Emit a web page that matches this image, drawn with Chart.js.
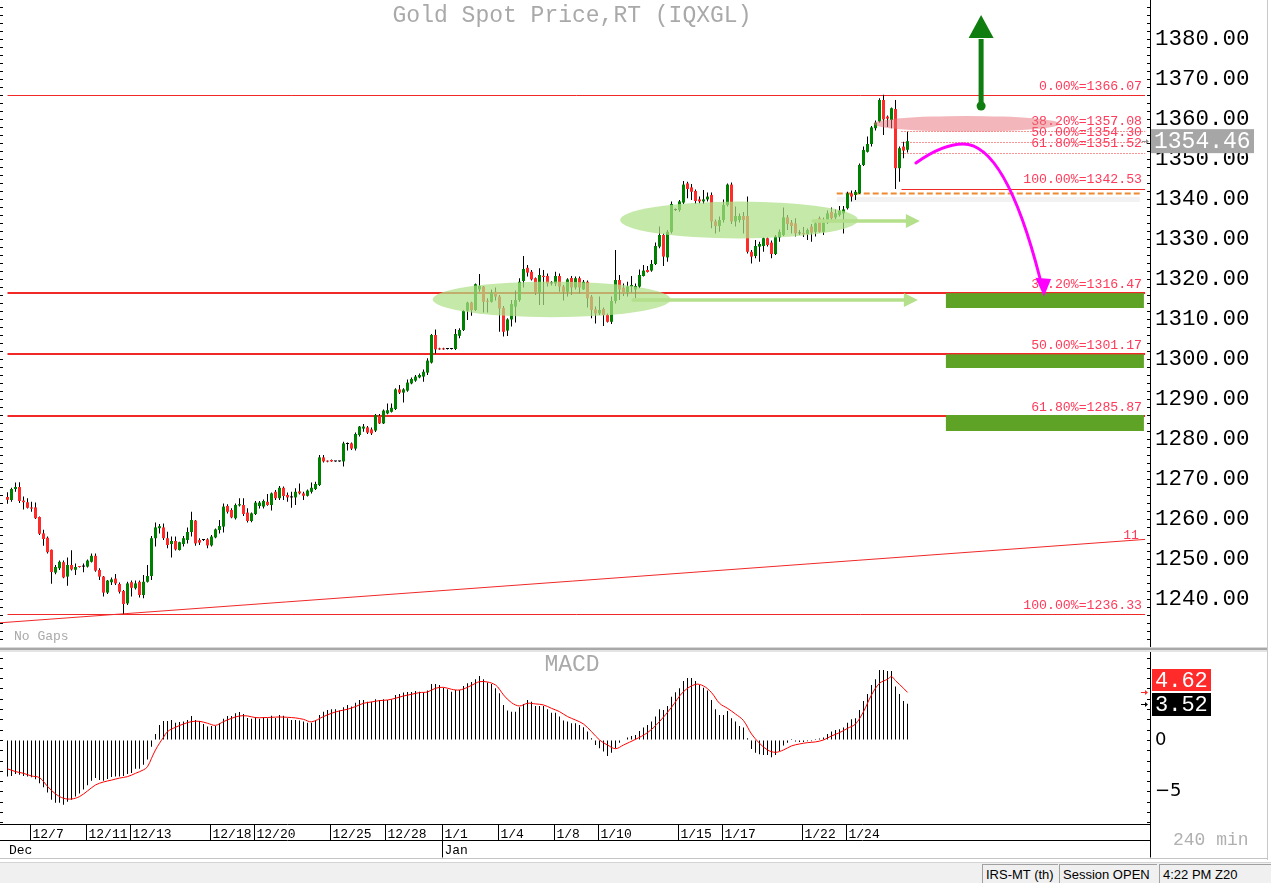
<!DOCTYPE html>
<html>
<head>
<meta charset="utf-8">
<title>Gold Spot Price 240 min</title>
<script src="https://cdn.jsdelivr.net/npm/chart.js@4.4.1/dist/chart.umd.min.js"></script>
<style>
html, body { margin: 0; padding: 0; background: #fff; }
body { width: 1271px; height: 883px; position: relative; overflow: hidden; }
#price { position: absolute; left: 0; top: 0; }
#macd { position: absolute; left: 0; top: 652px; }
.sep { position: absolute; left: 0; width: 1268px; height: 1px; }
#edge { position: absolute; left: 1267px; top: 0; width: 1px; height: 860px; background: #c8c8c8; }
#status { position: absolute; left: 0; top: 862px; width: 1271px; height: 21px; background: #f0f0f0; border-top: 1px solid #d4d4d4; }
.cell { position: absolute; top: 1px; height: 19px; border-left: 1px solid #a0a0a0; border-top: 1px solid #a0a0a0;
        font: 13px "Liberation Sans", Arial, sans-serif; line-height: 19px; padding-left: 3px; color: #000; }
</style>
</head>
<body>
<canvas id="price" width="1271" height="647"></canvas>
<div class="sep" style="top:647px;background:#d8d8d8"></div>
<div class="sep" style="top:648px;background:#a8a8a8;height:2px"></div>
<div class="sep" style="top:650px;background:#e4e4e4;height:2px"></div>
<canvas id="macd" width="1271" height="208"></canvas>
<div id="edge"></div>
<div id="status">
  <div class="cell" style="left:982px;width:72px">IRS-MT (th)</div>
  <div class="cell" style="left:1059px;width:94px">Session OPEN</div>
  <div class="cell" style="left:1159px;width:110px">4:22 PM Z20</div>
</div>
<script>
// ---- 240 min candles, Gold spot (IQXGL), 6 Dec -> 25 Jan ----
var candleOpen = [
 1265.5,1264.75,1267.5,1268,1264.6,1264.2,1262.9,1262.9,1260.5,1256.4,
 1255.3,1252.3,1246.6,1247.7,1249.2,1245.6,1248.5,1247.3,1248.1,1248.1,
 1248.1,1249.3,1250.8,1247.25,1245.6,1241.6,1244.2,1245.1,1243.75,1242,
 1238.9,1244.2,1242.7,1244.3,1241,1244.3,1245.75,1255.2,1257.7,1257.9,
 1255.2,1253.75,1254.5,1252.25,1253.75,1254.75,1256.75,1259.6,1254.75,1254.75,
 1254.9,1253.4,1255.4,1257.25,1258.1,1263.25,1262.25,1260.2,1263.4,1263.5,
 1261.6,1259.5,1261.25,1263.25,1263.1,1264.3,1263.5,1266.8,1265.2,1267.8,
 1266,1265.4,1265.4,1266.9,1266.4,1265.8,1266.8,1267.5,1268.5,1275.4,
 1274.5,1274.75,1274.4,1274.4,1274.4,1278.75,1278.9,1277.6,1281,1282.6,
 1282.9,1282.4,1282.1,1285.8,1283.9,1286.4,1286.8,1287.5,1292.4,1291.6,
 1292.1,1293.9,1294.6,1295.4,1295.6,1296.6,1299.1,1306,1302.6,1302.6,
 1302.5,1302.5,1302.5,1305.8,1307.25,1312.1,1314.1,1312.25,1317.4,1318.1,
 1314.5,1314.3,1316.8,1315.6,1312.75,1307.1,1309.9,1313.1,1314.75,1319.5,
 1322.8,1321.8,1320.2,1316.6,1320.8,1320.75,1318.9,1318.9,1320.75,1318.1,
 1316.8,1320.25,1317.9,1320.2,1317.4,1319.3,1315.6,1312.4,1311.4,1312.5,
 1311,1309.3,1314.5,1319.75,1317.8,1316.6,1318.1,1317.4,1318.1,1320.75,
 1322.25,1322.1,1323.75,1328.1,1331,1325.4,1331.8,1337.25,1337.25,1339.1,
 1343.9,1342.9,1342,1339.9,1339.4,1339.9,1341,1334.4,1333.25,1334.75,
 1338.5,1343.6,1334.4,1334.75,1335.75,1335.75,1326.8,1325.75,1328.1,1328.25,
 1330.2,1329.1,1326.25,1330.4,1331,1335.4,1334.1,1333.9,1331.4,1331.3,
 1331.25,1333.1,1331.8,1335.2,1331.8,1334.1,1336.75,1335.4,1336,1336.4,
 1337.7,1341.4,1341,1341.4,1348.5,1351.8,1353.75,1357.7,1359.4,1364.75,
 1360.6,1359.75,1362.5,1347.7,1353.1,1352.3
];
var candleHigh = [
 1266.7,1267.8,1269.1,1269.2,1265.6,1265.2,1264.3,1264.1,1260.6,1257.3,
 1255.6,1252.4,1248.5,1249.6,1249.6,1250.4,1252.2,1248.9,1248.25,1248.9,
 1249.9,1251.4,1251.4,1247.7,1245.75,1244.75,1245.4,1246.25,1244.1,1242.25,
 1244.3,1244.6,1244.6,1244.6,1246,1248.5,1255.75,1259.1,1258.75,1258.9,
 1256.8,1255.6,1255.6,1254.3,1255.75,1257.9,1261.8,1259.75,1255.2,1255,
 1255.2,1256,1257.6,1259.75,1263.9,1263.7,1262.7,1263.9,1265.2,1265.2,
 1262.7,1261.6,1264.5,1264.5,1264.9,1266.25,1266.6,1267.25,1268.25,1268.1,
 1266.6,1266.8,1267.7,1268.9,1266.8,1267.4,1269.1,1269.3,1276,1276,
 1274.6,1274.9,1274.5,1274.5,1279.3,1279.1,1279.1,1281.6,1283.25,1283.75,
 1283.25,1282.9,1286.25,1286.25,1287.4,1288.9,1288.9,1292.7,1293.5,1292.7,
 1294.9,1295.4,1296,1296.4,1297.4,1300.2,1306.25,1307.4,1302.8,1302.8,
 1302.6,1302.6,1307.5,1307.7,1312.25,1314.3,1314.3,1318.9,1321.25,1318.25,
 1315.2,1317.4,1317.9,1316,1313.25,1310.2,1314.75,1317.1,1320.2,1325.75,
 1323.5,1322.25,1320.4,1322.7,1322.25,1321.4,1319.5,1321.8,1321.4,1318.5,
 1320.2,1320.75,1320.6,1320.6,1319.75,1319.6,1316,1313.1,1315.6,1312.9,
 1311.4,1315.6,1327.25,1321,1318.9,1319.3,1320.75,1318.9,1322.4,1323.5,
 1323.25,1324.75,1329.1,1333.1,1331.4,1332.25,1339.4,1337.6,1339.75,1344.5,
 1344.3,1343.75,1342.4,1340.6,1342.25,1341.6,1341.6,1334.9,1335.6,1339.9,
 1343.9,1344.1,1338.1,1336.4,1336.75,1340.6,1327.25,1329.75,1329.3,1330.4,
 1330.4,1329.6,1331,1332.4,1337.9,1336,1334.75,1335.2,1332.25,1333,
 1332.6,1333.75,1334.75,1335.6,1335.4,1337.1,1337.9,1337.4,1338.25,1338.25,
 1341.8,1342.1,1342.25,1348.9,1353.1,1355.6,1358.25,1359.6,1365.2,1366.07,
 1360.9,1362.9,1364.75,1353.1,1354.3,1356.8
];
var candleLow = [
 1263.8,1264.3,1266.8,1264,1262.4,1262.6,1261.8,1260,1256,1253.3,
 1251.4,1243.8,1246.2,1247.25,1245.2,1243.3,1247.1,1246,1247.9,1246.7,
 1247.9,1249.1,1246.8,1244.75,1240.6,1241.25,1243.5,1243.5,1241.4,1236.33,
 1238.5,1240.6,1242.4,1240.4,1240.2,1244.1,1244.75,1253.1,1256.4,1254.75,
 1252.7,1250.4,1252.1,1252.1,1253.1,1253.9,1255.6,1253.3,1253.5,1254.5,
 1252.7,1253.1,1255.2,1256.4,1256.6,1261.4,1260.2,1259.9,1263.1,1260.75,
 1259.1,1259.2,1261,1262.6,1262.6,1263.3,1262.1,1264.75,1264.75,1264.75,
 1264.3,1262.8,1263.5,1266.1,1264.75,1265.6,1266.4,1267.25,1268.25,1274.1,
 1274.2,1274.3,1274.3,1274.3,1273.1,1277.1,1277.25,1277.1,1280.6,1281.8,
 1281.25,1281,1281.75,1283.75,1283.75,1286.2,1286.6,1287.25,1291.25,1289.1,
 1291.8,1293.7,1294.3,1295.2,1294.3,1296,1298.9,1301.4,1302.3,1302.3,
 1302.4,1302.4,1302.25,1305.2,1307,1309.75,1310.8,1312,1316.8,1311.6,
 1311.6,1314.1,1314.6,1306.8,1305.6,1305.75,1308.1,1309.1,1314.3,1317.9,
 1320.6,1319.6,1316,1313.5,1313.5,1318.1,1318.4,1318.25,1316.8,1314.6,
 1315.6,1316,1317.4,1316.4,1317.25,1312.9,1310.2,1308.9,1311,1308.25,
 1309.1,1308.75,1313.9,1314.75,1315.75,1315.6,1316.6,1315.2,1317.7,1320.6,
 1321.6,1321.8,1323.5,1327.7,1323.25,1324.3,1331.4,1337,1336.8,1338.75,
 1340.2,1339.75,1338.75,1338.9,1338.75,1339.4,1332.7,1331.4,1331.8,1334.1,
 1338.1,1333.75,1333.1,1334.1,1331.4,1326.4,1323.9,1325.2,1324.3,1326.8,
 1328.1,1325.2,1326,1329.3,1330.75,1332.25,1331.4,1330.6,1331,1330.5,
 1329.75,1329.3,1330.6,1331.6,1331,1333.75,1334.75,1334.9,1335.6,1331.4,
 1337.4,1339.4,1339.75,1341.25,1348.25,1351.6,1353.1,1357.1,1359.1,1356,
 1358,1357.7,1342.53,1344.3,1350.2,1351.6
];
var candleClose = [
 1264.8,1267.5,1268,1264.5,1264.2,1262.8,1262.6,1260.2,1256.3,1255,
 1251.7,1246.75,1248,1249.3,1245.4,1248.5,1247.4,1248,1248,1248.1,
 1249.6,1250.8,1247.1,1245.6,1241.6,1244.6,1244.9,1243.9,1241.8,1238.75,
 1243.9,1242.8,1243.9,1241,1244.3,1245.75,1255.2,1257.9,1258.2,1255.2,
 1253.5,1254.5,1252.4,1254.2,1255.2,1256.75,1259.75,1253.9,1254.1,1254.75,
 1253.4,1255.6,1257.4,1258.25,1263.1,1261.8,1260.4,1263.5,1263.7,1261.25,
 1259.5,1261.4,1264.1,1264.1,1264.5,1263.5,1266.4,1265.2,1267.8,1265.75,
 1265.4,1265.4,1266.8,1266.4,1265.8,1267.1,1267.8,1268.75,1275.4,1274.4,
 1274.35,1274.4,1274.4,1274.4,1278.9,1278.75,1277.6,1281.25,1283.1,1283.1,
 1281.6,1281.4,1286,1283.9,1287.1,1287.2,1287.8,1292.4,1291.6,1292.4,
 1294.1,1295,1295.6,1296,1296.8,1299.6,1306,1302.4,1302.4,1302.4,
 1302.5,1302.5,1306.25,1307.25,1312,1314.1,1312.25,1318.7,1318.25,1314.3,
 1314.3,1316.6,1315.6,1312.6,1306.8,1309.9,1313.75,1314.75,1319.3,1322.5,
 1321.6,1319.9,1316.6,1321,1320.5,1318.9,1318.9,1320.75,1318.1,1316.8,
 1319.9,1317.9,1320.2,1317.9,1319.3,1315.2,1312.25,1311.4,1312.25,1311,
 1309.3,1314.5,1319.75,1317.4,1316.4,1318.1,1318.5,1318.25,1321,1322.1,
 1321.75,1323.75,1328.25,1331,1325.6,1331.8,1338.75,1337.25,1339.4,1343.6,
 1342.5,1341.8,1339.5,1339.4,1339.9,1340.6,1334.4,1333.25,1334.75,1338.5,
 1343.6,1334.4,1335.75,1335.75,1334.75,1326.8,1325.6,1328.25,1328.75,1330.2,
 1328.5,1326.25,1330.6,1331.8,1335.4,1333.75,1333.25,1331.4,1331.4,1331.2,
 1332.25,1331.6,1333.9,1331.8,1334.1,1336.4,1335.2,1336.4,1337.1,1337.4,
 1341.4,1340.6,1341.8,1348.5,1352.25,1353.75,1357.9,1359.1,1364.75,1359.9,
 1360.1,1362.7,1347.7,1352.7,1352.1,1354.46
];

// MACD histogram (one bar per candle) and signal line read at sample candles
var macdHist = [
 -3.56,-3.5,-3.3,-3.37,-3.5,-3.56,-3.62,-3.82,-4.2,-4.6,
 -5.1,-5.8,-6.1,-6.1,-6.3,-6.0,-5.8,-5.5,-5.2,-4.8,
 -4.4,-3.95,-3.7,-3.9,-3.95,-3.8,-3.6,-3.56,-3.56,-3.5,
 -3.3,-3.2,-2.8,-2.8,-2.4,-1.9,-0.65,0.58,1.46,1.85,
 1.85,1.94,1.68,1.75,1.78,1.94,2.33,1.94,1.85,1.55,
 1.3,1.36,1.36,1.62,2.07,2.33,2.33,2.6,2.72,2.52,
 2.14,2.07,2.2,2.07,2.2,2.1,2.36,2.14,2.43,2.36,
 2.1,1.94,1.94,1.88,1.78,1.68,
 1.68,1.94,2.43,2.75,2.91,2.98,2.98,2.85,3.17,3.4,
 3.24,3.62,3.88,3.88,3.72,3.72,3.95,3.88,3.95,3.88,
 3.95,4.37,4.47,4.6,4.66,4.66,4.76,4.69,4.6,4.79,
 5.44,5.44,5.34,5.08,4.92,4.69,4.85,4.85,5.24,5.5,
 5.63,5.89,6.2,5.89,5.57,5.44,5.02,4.53,3.4,2.85,
 2.75,2.75,3.17,3.5,3.88,3.72,3.3,3.3,3.3,2.98,
 2.65,2.65,2.27,1.88,1.78,1.62,1.62,1.46,1.23,0.81,
 0.16,-0.49,-0.81,-1.13,-1.55,
 -1.23,-0.81,-0.26,-0.06,0.23,0.39,0.49,0.87,1.2,1.46,
 1.78,2.27,2.98,2.91,3.3,4.2,4.63,5.02,5.73,6.02,
 6.02,5.73,5.34,5.08,4.79,3.88,2.98,2.43,2.43,2.82,
 2.1,1.78,1.36,1.2,0.16,-0.87,-1.23,-1.39,-1.46,-1.46,
 -1.68,-1.46,-1.07,-0.55,-0.26,0.1,-0.16,-0.19,-0.19,-0.13,
 -0.13,0.1,0.13,0.23,0.58,0.81,0.97,1.04,1.2,1.68,
 2.0,2.1,2.91,3.79,4.47,5.34,5.89,6.8,6.8,6.7,
 6.7,5.18,4.47,3.79,3.52
];
var signalIdx = [0,2,4,6,8,10,12,14,16,18,20,22,24,26,28,30,32,34,35,36,37,38,39,40,42,44,46,48,50,52,54,56,58,60,62,64,66,68,70,72,74,
 76,79,81,83,85,87,89,91,93,95,97,99,101,103,105,107,109,111,113,115,117,118,120,122,123,124,126,128,130,132,134,136,138,140,142,144,146,148,150,
 152,154,157,160,163,166,169,172,174,176,178,180,182,184,186,188,190,192,194,196,198,200,202,204,206,208,210,212,214,216,218,220,221,222,224,225];
var signalVal = [-2.8,-3.07,-3.24,-3.5,-3.66,-4.5,-5.24,-5.66,-5.73,-5.5,-4.95,-4.37,-4.08,-3.9,-3.7,-3.56,-3.24,-2.9,-2.6,-1.78,-0.97,-0.32,0.26,0.81,1.23,1.55,1.78,1.81,1.62,1.42,1.78,2.1,2.33,2.33,2.17,2.17,2.2,2.23,2.2,2.14,2.0,
 1.76,2.27,2.59,2.82,2.98,3.24,3.56,3.69,3.82,3.88,4.05,4.27,4.43,4.6,4.66,5.02,5.11,4.92,4.85,5.11,5.5,5.66,5.63,5.34,4.92,4.37,3.62,3.3,3.56,3.5,3.4,3.07,2.75,2.27,1.94,1.55,0.81,0.0,-0.49,
 -0.85,-0.49,0.06,0.71,1.78,3.17,4.69,5.4,5.24,4.6,3.56,3.07,2.52,1.88,0.58,-0.32,-0.97,-1.2,-0.97,-0.58,-0.39,-0.26,-0.19,0.0,0.39,0.71,1.13,1.55,2.75,4.37,5.5,5.89,6.15,5.76,5.02,4.62];

// date axis: first candle of each labelled day
var dateTickIdx = [6,20,31,51,62,81,95,109,123,137,148,168,179,199,210];
var dateTickLabels = ['12/7','12/11','12/13','12/18','12/20','12/25','12/28','1/1','1/4','1/8','1/10','1/15','1/17','1/22','1/24'];
var monthIdx = [0,109];
var monthLabels = ['Dec','Jan'];

// drawn studies (price units / candle index)
var fibMain = [1366.07, 1316.47, 1301.17, 1285.87, 1236.33];
var fibMainText = ['0.00%=1366.07','38.20%=1316.47','50.00%=1301.17','61.80%=1285.87','100.00%=1236.33'];
var fibPull = [1357.08, 1354.30, 1351.52, 1342.53];
var fibPullText = ['38.20%=1357.08','50.00%=1354.30','61.80%=1351.52','100.00%=1342.53'];
var lastPrice = 1354.46;
var lastMacd = 3.52, lastSignal = 4.62;
var trendLine = [[-1.875, 1234.05], [284.4, 1254.9]];
var supportLevel = 1341.4;
var targetZones = [[1316.47, 1312.75], [1301.17, 1297.75], [1286.0, 1282.0]];

var GREEN = '#008000', RED = '#ff2b2b', FIBRED = '#f02828', FIBTXT = '#ff3a5a';
var X_MIN = -1.875, X_MAX = 285.625;

function candleColor(i) {
  if (candleClose[i] > candleOpen[i]) return GREEN;
  if (candleClose[i] < candleOpen[i]) return RED;
  return '#000';
}

var wickData = candleHigh.map(function (h, i) { return { x: i, y: [candleLow[i], h] }; });
var bodyData = candleOpen.map(function (o, i) { return { x: i, y: [o, candleClose[i]] }; });

function X(c, i) { return c.scales.x.getPixelForValue(i); }
function Y(c, v) { return c.scales.y.getPixelForValue(v); }

// keep the value axis flush with the pane edges (no label padding)
function fitRightAxis(s) {
  s.width = 121;
  s.paddingTop = 0;
  s.paddingBottom = 0;
}

function ellipse(ctx, cx, cy, rx, ry, fill) {
  ctx.beginPath();
  ctx.ellipse(cx, cy, rx, ry, 0, 0, Math.PI * 2);
  ctx.fillStyle = fill;
  ctx.fill();
}

function flatArrow(c, ctx, i0, i1, v, col) {
  var y = Y(c, v), x0 = X(c, i0), x1 = X(c, i1);
  ctx.strokeStyle = col; ctx.fillStyle = col;
  ctx.lineWidth = 3.5; ctx.lineCap = 'round';
  ctx.beginPath(); ctx.moveTo(x0, y); ctx.lineTo(x1 - 12, y); ctx.stroke();
  ctx.beginPath(); ctx.moveTo(x1, y); ctx.lineTo(x1 - 14, y - 7); ctx.lineTo(x1 - 14, y + 7); ctx.closePath(); ctx.fill();
}

function smallArrow(ctx, x, y, col) {
  ctx.strokeStyle = col; ctx.fillStyle = col; ctx.lineWidth = 1;
  ctx.beginPath(); ctx.moveTo(x, y + 0.5); ctx.lineTo(x + 5, y + 0.5); ctx.stroke();
  ctx.beginPath(); ctx.moveTo(x + 7, y + 0.5); ctx.lineTo(x + 4, y - 2); ctx.lineTo(x + 4, y + 3); ctx.closePath(); ctx.fill();
}

var priceOverlay = {
  id: 'priceOverlay',
  beforeDatasetsDraw: function (c) {
    var ctx = c.ctx;
    ctx.save();
    // title
    ctx.font = '23px "Liberation Mono", monospace';
    ctx.fillStyle = '#a9a9a9'; ctx.textAlign = 'center'; ctx.textBaseline = 'alphabetic';
    ctx.fillText('Gold Spot Price,RT (IQXGL)', 572, 22);
    ctx.textAlign = 'left'; ctx.font = '13px "Liberation Mono", monospace';
    ctx.fillText('No Gaps', 14, 640);

    // rising trend line from the December low
    ctx.strokeStyle = FIBRED; ctx.lineWidth = 1;
    ctx.beginPath();
    ctx.moveTo(X(c, trendLine[0][0]), Y(c, trendLine[0][1]));
    ctx.lineTo(X(c, trendLine[1][0]), Y(c, trendLine[1][1]));
    ctx.stroke();

    // main retracement (Dec low -> Jan high)
    var right = X(c, 284.4), left = X(c, 0);
    fibMain.forEach(function (v, k) {
      var y = Y(c, v);
      var w = (k === 0 || k === fibMain.length - 1) ? 1 : 2;
      ctx.lineWidth = w; ctx.strokeStyle = FIBRED;
      var yy = w === 1 ? Math.round(y) + 0.5 : Math.round(y);
      ctx.beginPath(); ctx.moveTo(left, yy); ctx.lineTo(right, yy); ctx.stroke();
    });
    // pullback retracement
    var pl = X(c, 223.5);
    fibPull.forEach(function (v, k) {
      var yy = Math.round(Y(c, v)) + 0.5;
      ctx.lineWidth = 1; ctx.strokeStyle = FIBRED;
      ctx.setLineDash(k === fibPull.length - 1 ? [] : [1, 2]);
      ctx.beginPath(); ctx.moveTo(pl, yy); ctx.lineTo(right, yy); ctx.stroke();
    });
    ctx.setLineDash([]);

    // support line with soft shadow
    var sx0 = X(c, 207.3), sx1 = X(c, 283.1), sy = Y(c, supportLevel);
    ctx.save();
    ctx.strokeStyle = 'rgba(0,0,0,0.05)'; ctx.lineWidth = 5;
    ctx.shadowColor = 'rgba(0,0,0,0.18)'; ctx.shadowBlur = 5;
    ctx.beginPath(); ctx.moveTo(sx0, sy + 6); ctx.lineTo(sx1, sy + 6); ctx.stroke();
    ctx.restore();
    ctx.strokeStyle = '#ef8a30'; ctx.lineWidth = 2; ctx.setLineDash([6, 3]);
    ctx.beginPath(); ctx.moveTo(sx0, sy); ctx.lineTo(sx1, sy); ctx.stroke();
    ctx.setLineDash([]);

    // level labels
    ctx.font = '13.2px "Liberation Mono", monospace';
    ctx.fillStyle = FIBTXT; ctx.textAlign = 'right';
    fibMain.forEach(function (v, k) { ctx.fillText(fibMainText[k], 1142, Y(c, v) - 5); });
    fibPull.forEach(function (v, k) { ctx.fillText(fibPullText[k], 1142, Y(c, v) - 5.5); });
    ctx.fillText('11', 1139, Y(c, 1254.7) - 1);
    ctx.restore();
  },
  afterDatasetsDraw: function (c) {
    var ctx = c.ctx;
    var ux = X(c, 1) - X(c, 0), uy = Y(c, 0) - Y(c, 1);
    ctx.save();
    // consolidation zones
    ellipse(ctx, X(c, 136.05), Y(c, 1314.9), 29.75 * ux, 4.45 * uy, 'rgba(174,224,134,0.72)');
    ellipse(ctx, X(c, 182.9), Y(c, 1334.75), 29.75 * ux, 4.6 * uy, 'rgba(174,224,134,0.72)');
    ellipse(ctx, X(c, 239.8), Y(c, 1358.8), 23.3 * ux, 1.95 * uy, 'rgba(232,110,120,0.5)');

    // target zones under the retracement levels
    ctx.fillStyle = '#5ea226';
    var zx0 = X(c, 234.6), zx1 = X(c, 284.1);
    targetZones.forEach(function (z) {
      var y0 = Y(c, z[0]), y1 = Y(c, z[1]);
      ctx.fillRect(zx0, y0, zx1 - zx0, y1 - y0);
    });

    flatArrow(c, ctx, 156.4, 227.6, 1314.75, '#b4e08c');
    flatArrow(c, ctx, 201.4, 228.1, 1334.5, '#b4e08c');

    // bullish scenario arrow
    var gx = X(c, 243.4);
    ctx.fillStyle = '#0f7d0f'; ctx.strokeStyle = '#0f7d0f';
    ctx.beginPath(); ctx.arc(gx, Y(c, 1363.25), 4.5, 0, Math.PI * 2); ctx.fill();
    ctx.lineWidth = 5; ctx.lineCap = 'butt';
    ctx.beginPath(); ctx.moveTo(gx, Y(c, 1363.25)); ctx.lineTo(gx, Y(c, 1380)); ctx.stroke();
    ctx.beginPath();
    ctx.moveTo(gx, Y(c, 1386)); ctx.lineTo(gx - 12.5, Y(c, 1380.25)); ctx.lineTo(gx + 12.5, Y(c, 1380.25));
    ctx.closePath(); ctx.fill();

    // bearish scenario curve
    ctx.strokeStyle = '#ff00ff'; ctx.fillStyle = '#ff00ff'; ctx.lineWidth = 3; ctx.lineCap = 'round';
    ctx.beginPath();
    ctx.moveTo(X(c, 227.1), Y(c, 1349));
    ctx.bezierCurveTo(X(c, 230.6), Y(c, 1351.5), X(c, 235.1), Y(c, 1353.75), X(c, 238.9), Y(c, 1353.75));
    ctx.bezierCurveTo(X(c, 246.9), Y(c, 1353.75), X(c, 253.1), Y(c, 1339.75), X(c, 258.1), Y(c, 1320.25));
    ctx.stroke();
    ctx.beginPath();
    ctx.moveTo(X(c, 259.1), Y(c, 1315.6));
    ctx.lineTo(X(c, 257.0), Y(c, 1320.3));
    ctx.lineTo(X(c, 260.9), Y(c, 1320.0));
    ctx.closePath(); ctx.fill();
    ctx.restore();
  },
  afterDraw: function (c) {
    var ctx = c.ctx, ys = c.scales.y;
    ctx.save();
    ctx.strokeStyle = '#000'; ctx.lineWidth = 1;
    ys.ticks.forEach(function (t) {
      var y = Math.round(ys.getPixelForValue(t.value)) + 0.5;
      ctx.beginPath(); ctx.moveTo(1147, y); ctx.lineTo(1150, y); ctx.stroke();
      ctx.beginPath(); ctx.moveTo(0, y); ctx.lineTo(3, y); ctx.stroke();
    });
    // last price tag
    var py = Y(c, lastPrice);
    ctx.fillStyle = '#a6a6a6';
    ctx.fillRect(1151, py - 12, 103, 24);
    ctx.fillStyle = '#fff'; ctx.font = '23px "Liberation Mono", monospace';
    ctx.textAlign = 'left'; ctx.textBaseline = 'middle';
    ctx.fillText(lastPrice.toFixed(2), 1154, py + 1);
    smallArrow(ctx, 1142, Math.round(py), '#909090');
    ctx.restore();
  }
};

var priceChart = new Chart(document.getElementById('price'), {
  type: 'bar',
  data: {
    datasets: [
      { label: 'wick', data: wickData, backgroundColor: '#000', barThickness: 1, grouped: false,
        inflateAmount: 0, order: 2 },
      { label: 'body', data: bodyData, backgroundColor: candleOpen.map(function (o, i) { return candleColor(i); }),
        barThickness: 3, grouped: false, minBarLength: 1, inflateAmount: 0, order: 1 }
    ]
  },
  options: {
    responsive: false, animation: false,
    layout: { padding: 0 },
    plugins: { legend: { display: false }, tooltip: { enabled: false } },
    scales: {
      x: { type: 'linear', min: X_MIN, max: X_MAX, offset: false, display: false },
      y: {
        position: 'right', min: 1228, max: 1389.75,
        afterFit: fitRightAxis,
        border: { display: true, color: '#000', width: 1 },
        grid: { drawOnChartArea: false, drawTicks: false },
        ticks: {
          stepSize: 2, includeBounds: false, autoSkip: false, padding: 5, color: '#000',
          font: { family: '"Liberation Mono", monospace', size: 22.5 },
          callback: function (v) {
            return (Math.abs(v % 10) < 1e-6 && v >= 1240 && v <= 1380) ? v.toFixed(2) : '';
          }
        }
      }
    }
  },
  plugins: [priceOverlay]
});

var macdOverlay = {
  id: 'macdOverlay',
  afterDraw: function (c) {
    var ctx = c.ctx, ys = c.scales.y, xs = c.scales.x, a = c.chartArea;
    ctx.save();
    ctx.font = '23px "Liberation Mono", monospace';
    ctx.fillStyle = '#a9a9a9'; ctx.textAlign = 'center';
    ctx.fillText('MACD', 572, 19);

    ctx.strokeStyle = '#000'; ctx.lineWidth = 1;
    ys.ticks.forEach(function (t) {
      var y = Math.round(ys.getPixelForValue(t.value)) + 0.5;
      ctx.beginPath(); ctx.moveTo(1147, y); ctx.lineTo(1150, y); ctx.stroke();
      ctx.beginPath(); ctx.moveTo(0, y); ctx.lineTo(3, y); ctx.stroke();
    });

    // date axis
    var top = a.bottom + 0.5, mid = top + 16, bot = top + 33;
    ctx.beginPath(); ctx.moveTo(0, top); ctx.lineTo(1150, top); ctx.stroke();
    ctx.beginPath(); ctx.moveTo(0, mid); ctx.lineTo(1150, mid); ctx.stroke();
    ctx.beginPath(); ctx.moveTo(1150.5, a.bottom); ctx.lineTo(1150.5, bot); ctx.stroke();
    ctx.font = '13px "Liberation Mono", monospace';
    ctx.fillStyle = '#000'; ctx.textAlign = 'left'; ctx.textBaseline = 'alphabetic';
    dateTickIdx.forEach(function (t, k) {
      var x = Math.round(xs.getPixelForValue(t - 0.5)) + 0.5;
      ctx.beginPath(); ctx.moveTo(x, top); ctx.lineTo(x, mid); ctx.stroke();
      ctx.fillText(dateTickLabels[k], x + 2, mid - 3);
    });
    monthIdx.forEach(function (t, k) {
      var x = k === 0 ? 7 : Math.round(xs.getPixelForValue(t - 0.5)) + 0.5;
      if (k > 0) { ctx.beginPath(); ctx.moveTo(x, top); ctx.lineTo(x, bot); ctx.stroke(); }
      ctx.fillText(monthLabels[k], x + 2, mid + 13);
    });
    ctx.strokeStyle = '#c4c4c4';
    ctx.beginPath(); ctx.moveTo(0, bot + 1); ctx.lineTo(1268, bot + 1); ctx.stroke();

    ctx.font = '18px "Liberation Mono", monospace'; ctx.fillStyle = '#b0b0b0';
    ctx.fillText('240 min', 1173, 193);

    // value tags
    var yb = ys.getPixelForValue(lastMacd), yr = ys.getPixelForValue(lastSignal);
    var bTop = Math.round(yb) - 11, rTop = bTop - 24;
    ctx.fillStyle = '#ff2b2b'; ctx.fillRect(1152, rTop, 59, 22);
    ctx.fillStyle = '#000'; ctx.fillRect(1152, bTop, 59, 23);
    ctx.font = '22px "Liberation Mono", monospace'; ctx.fillStyle = '#fff'; ctx.textBaseline = 'middle';
    ctx.fillText(lastSignal.toFixed(2), 1155, rTop + 12);
    ctx.fillText(lastMacd.toFixed(2), 1155, bTop + 12);
    smallArrow(ctx, 1141, Math.round(yr), '#ff2b2b');
    smallArrow(ctx, 1141, Math.round(yb), '#000');
    ctx.restore();
  }
};

var macdChart = new Chart(document.getElementById('macd'), {
  type: 'bar',
  data: {
    datasets: [
      { type: 'line', label: 'signal', data: signalIdx.map(function (x, k) { return { x: x, y: signalVal[k] }; }),
        borderColor: '#ff0000', borderWidth: 1, pointRadius: 0, tension: 0.35, order: 0 },
      { label: 'macd', data: macdHist.map(function (v, i) { return { x: i, y: v }; }),
        backgroundColor: '#000', barThickness: 1, inflateAmount: 0, grouped: false, order: 1 }
    ]
  },
  options: {
    responsive: false, animation: false,
    layout: { padding: { top: 0, bottom: 36, left: 0, right: 0 } },
    plugins: { legend: { display: false }, tooltip: { enabled: false } },
    scales: {
      x: { type: 'linear', min: X_MIN, max: X_MAX, offset: false, display: false },
      y: {
        position: 'right', min: -8.16, max: 8.54,
        afterFit: fitRightAxis,
        border: { display: true, color: '#000', width: 1 },
        grid: { drawOnChartArea: false, drawTicks: false },
        ticks: {
          stepSize: 1, includeBounds: false, autoSkip: false, padding: 5, color: '#000',
          font: { family: '"DejaVu Sans", sans-serif', size: 18 },
          callback: function (v) { return v === 0 ? '0' : (v === -5 ? '\u22125' : ''); }
        }
      }
    }
  },
  plugins: [macdOverlay]
});
</script>
</body>
</html>
